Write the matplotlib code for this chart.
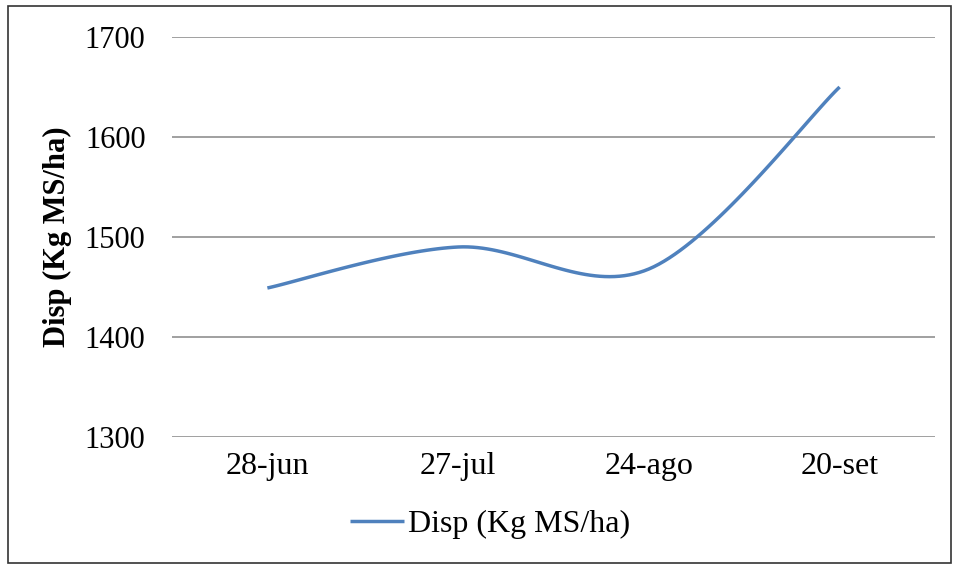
import numpy as np
import matplotlib
matplotlib.use("Agg")
import matplotlib.pyplot as plt
from matplotlib.patches import Rectangle

dates = ["28-jun", "27-jul", "24-ago", "20-set"]
disp = [1449, 1490, 1468, 1650]
yticks = [1300, 1400, 1500, 1600, 1700]
series_name = "Disp (Kg MS/ha)"

plt.rcParams['font.family'] = ['Liberation Serif', 'DejaVu Serif']


def smooth(xs, ys, n=40):
    # excel-like smoothed line: catmull-rom turned into cubic bezier pieces
    xs = np.asarray(xs, float)
    ys = np.asarray(ys, float)
    px = np.concatenate([[xs[0]], xs, [xs[-1]]])
    py = np.concatenate([[ys[0]], ys, [ys[-1]]])
    outx, outy = [], []
    t = np.linspace(0, 1, n)
    for i in range(1, len(px) - 2):
        p0 = np.array([px[i], py[i]])
        p3 = np.array([px[i + 1], py[i + 1]])
        c1 = p0 + (p3 - np.array([px[i - 1], py[i - 1]])) / 6
        c2 = p3 - (np.array([px[i + 2], py[i + 2]]) - p0) / 6
        b = ((1 - t) ** 3)[:, None] * p0 + (3 * (1 - t) ** 2 * t)[:, None] * c1 \
            + (3 * (1 - t) * t ** 2)[:, None] * c2 + (t ** 3)[:, None] * p3
        outx.extend(b[:, 0])
        outy.extend(b[:, 1])
    return outx, outy


fig = plt.figure(figsize=(9.59, 5.65), dpi=100)
ax = fig.add_axes([172 / 959, 1 - 437 / 565, (935 - 172) / 959, 400 / 565])

x = np.arange(len(dates))
sx, sy = smooth(x, disp)
ax.plot(sx, sy, color='#4F81BD', lw=2.5, solid_capstyle='butt', label=series_name, zorder=3)

ax.set_xlim(-0.5, len(dates) - 0.5)
ax.set_ylim(1300, 1700)
ax.set_yticks(yticks)
ax.set_xticks(x)
ax.set_xticklabels(dates)
ax.grid(axis='y', color='#868686', lw=1.1)
ax.set_axisbelow(True)
for s in ax.spines.values():
    s.set_visible(False)
ax.tick_params(axis='y', length=0, labelsize=22, pad=19)
ax.tick_params(axis='x', length=0, labelsize=23, pad=11)

ax.set_ylabel(series_name, fontsize=22, fontweight='bold')
ax.yaxis.set_label_coords((72 - 172) / 763, 0.5)

leg = ax.legend(loc='center left',
                bbox_to_anchor=((350 - 172) / 763, (437 - 524) / 400),
                frameon=False, fontsize=23, handlelength=1.7, handletextpad=0.1,
                borderpad=0, borderaxespad=0)

fig.patches.append(Rectangle((8 / 959, 1 - 563 / 565), 943 / 959, 557 / 565,
                             transform=fig.transFigure, fill=False, edgecolor='#333333', lw=1.2))

fig.savefig('out.png', dpi=100)
